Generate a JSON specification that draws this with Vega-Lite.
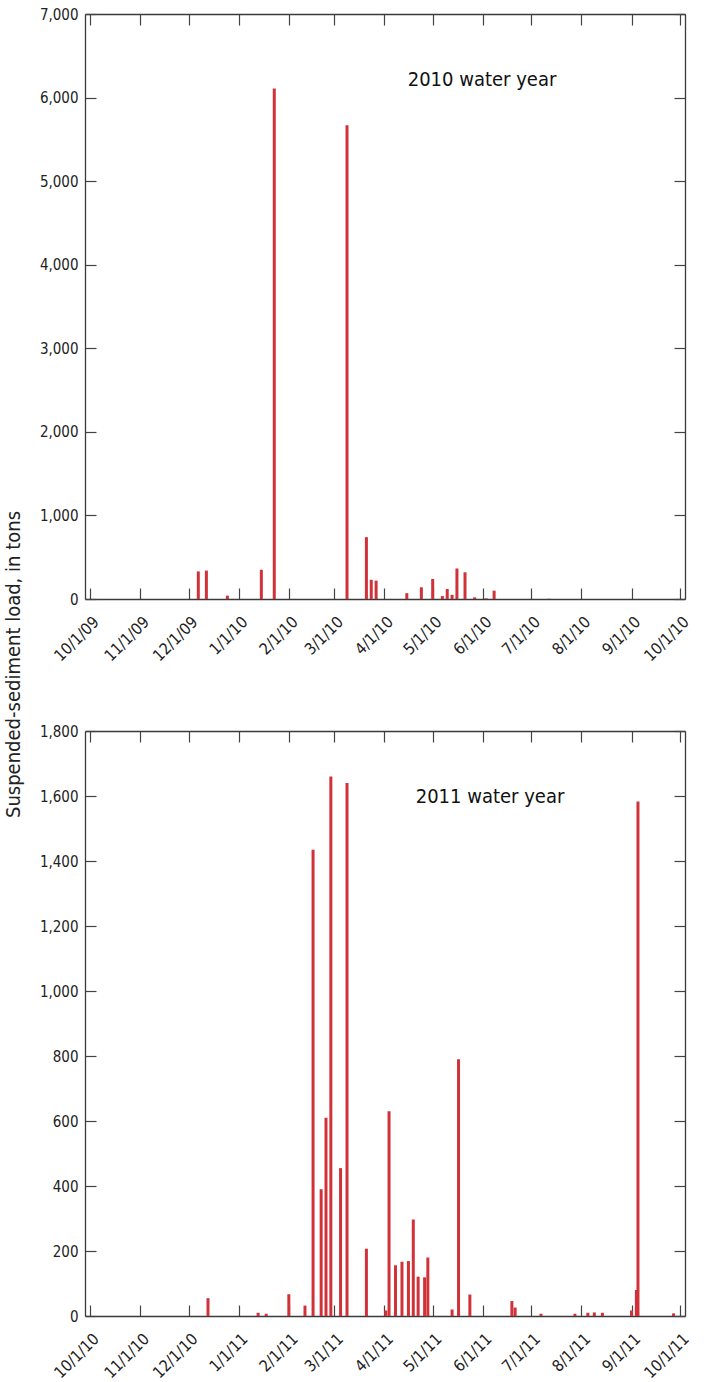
{
  "$schema": "https://vega.github.io/schema/vega-lite/v6.json",
  "padding": {"left": 3, "top": 7, "right": 10, "bottom": 5},
  "bounds": "flush",
  "spacing": 132,
  "background": "white",
  "config": {
    "view": {"stroke": null},
    "font": "DejaVu Sans Condensed",
    "axis": {
      "grid": false,
      "labelFont": "DejaVu Sans Condensed",
      "labelFontSize": 15,
      "labelColor": "#222",
      "labelOverlap": false,
      "labelFlush": false,
      "domainColor": "#3a3a3a",
      "domainWidth": 1.3,
      "tickColor": "#444",
      "tickWidth": 1.2,
      "tickSize": -11,
      "titleFont": "DejaVu Sans Condensed",
      "titleFontSize": 20,
      "titleFontWeight": "normal",
      "titleColor": "#222"
    },
    "title": {"font": "DejaVu Sans Condensed", "fontSize": 20, "fontWeight": "normal", "color": "#111"}
  },
  "vconcat": [
    {
      "width": 600,
      "height": 585,
      "title": {"text": "2010 water year", "anchor": "middle", "dx": 97, "offset": -99, "baseline": "alphabetic"},
      "data": {"values": [
        {"date": "2009-12-07", "load": 330},
        {"date": "2009-12-12", "load": 340},
        {"date": "2009-12-25", "load": 40},
        {"date": "2010-01-15", "load": 350},
        {"date": "2010-01-23", "load": 6110},
        {"date": "2010-03-09", "load": 5670},
        {"date": "2010-03-21", "load": 740},
        {"date": "2010-03-24", "load": 230},
        {"date": "2010-03-27", "load": 220},
        {"date": "2010-04-15", "load": 70},
        {"date": "2010-04-24", "load": 140},
        {"date": "2010-05-01", "load": 240},
        {"date": "2010-05-07", "load": 35},
        {"date": "2010-05-10", "load": 120},
        {"date": "2010-05-13", "load": 50},
        {"date": "2010-05-16", "load": 365},
        {"date": "2010-05-21", "load": 320},
        {"date": "2010-05-27", "load": 20},
        {"date": "2010-06-03", "load": 8},
        {"date": "2010-06-08", "load": 100},
        {"date": "2010-07-12", "load": 3}
      ]},
      "layer": [
        {
          "mark": {"type": "bar", "width": 3, "color": "#d13239"},
          "encoding": {
            "x": {"field": "date", "type": "temporal",
                  "scale": {"type": "utc", "domain": [{"year": 2009, "month": 10, "date": 1, "utc": true}, {"year": 2010, "month": 10, "date": 1, "utc": true}]},
                  "axis": {"orient": "bottom", "title": null, "format": "%-m/%-d/%y", "tickCount": {"interval": "month", "step": 1}, "labelAngle": -45, "labelAlign": "right", "labelBaseline": "middle", "labelPadding": 31, "labelOffset": 6, "labelFontSize": 16}},
            "y": {"field": "load", "type": "quantitative",
                  "scale": {"domain": [0, 7000]},
                  "axis": {"orient": "left", "values": [0, 1000, 2000, 3000, 4000, 5000, 6000, 7000], "format": ",d", "labelPadding": 18,
                           "title": "Suspended-sediment load, in tons", "titleX": -66, "titleY": 650, "titleAngle": -90, "titleAlign": "center", "titleBaseline": "alphabetic"}}
          }
        },
        {
          "mark": {"type": "bar", "width": 3, "opacity": 0},
          "encoding": {
            "x": {"field": "date", "type": "temporal",
                  "axis": {"orient": "top", "title": null, "labels": false, "tickCount": {"interval": "month", "step": 1}}},
            "y": {"field": "load", "type": "quantitative",
                  "axis": {"orient": "right", "title": null, "labels": false, "values": [0, 1000, 2000, 3000, 4000, 5000, 6000, 7000]}}
          }
        }
      ]
    },
    {
      "width": 600,
      "height": 585,
      "title": {"text": "2011 water year", "anchor": "middle", "dx": 105, "offset": -99, "baseline": "alphabetic"},
      "data": {"values": [
        {"date": "2010-12-13", "load": 55},
        {"date": "2011-01-13", "load": 10},
        {"date": "2011-01-18", "load": 7},
        {"date": "2011-02-01", "load": 67},
        {"date": "2011-02-11", "load": 32},
        {"date": "2011-02-16", "load": 1435},
        {"date": "2011-02-21", "load": 390},
        {"date": "2011-02-24", "load": 610},
        {"date": "2011-02-27", "load": 1660},
        {"date": "2011-03-05", "load": 455},
        {"date": "2011-03-09", "load": 1640},
        {"date": "2011-03-21", "load": 207},
        {"date": "2011-04-02", "load": 17},
        {"date": "2011-04-04", "load": 630},
        {"date": "2011-04-08", "load": 156},
        {"date": "2011-04-12", "load": 167},
        {"date": "2011-04-16", "load": 169},
        {"date": "2011-04-19", "load": 297},
        {"date": "2011-04-22", "load": 121},
        {"date": "2011-04-26", "load": 119},
        {"date": "2011-04-28", "load": 180},
        {"date": "2011-05-13", "load": 20},
        {"date": "2011-05-17", "load": 790},
        {"date": "2011-05-24", "load": 66},
        {"date": "2011-06-19", "load": 46},
        {"date": "2011-06-21", "load": 26},
        {"date": "2011-07-07", "load": 7},
        {"date": "2011-07-28", "load": 7},
        {"date": "2011-08-05", "load": 10},
        {"date": "2011-08-09", "load": 11},
        {"date": "2011-08-14", "load": 10},
        {"date": "2011-09-01", "load": 17},
        {"date": "2011-09-04", "load": 80},
        {"date": "2011-09-05", "load": 1583},
        {"date": "2011-09-27", "load": 8}
      ]},
      "layer": [
        {
          "mark": {"type": "bar", "width": 3, "color": "#d13239"},
          "encoding": {
            "x": {"field": "date", "type": "temporal",
                  "scale": {"type": "utc", "domain": [{"year": 2010, "month": 10, "date": 1, "utc": true}, {"year": 2011, "month": 10, "date": 1, "utc": true}]},
                  "axis": {"orient": "bottom", "title": null, "format": "%-m/%-d/%y", "tickCount": {"interval": "month", "step": 1}, "labelAngle": -45, "labelAlign": "right", "labelBaseline": "middle", "labelPadding": 31, "labelOffset": 6, "labelFontSize": 16}},
            "y": {"field": "load", "type": "quantitative",
                  "scale": {"domain": [0, 1800]},
                  "axis": {"orient": "left", "values": [0, 200, 400, 600, 800, 1000, 1200, 1400, 1600, 1800], "format": ",d", "labelPadding": 18, "title": null}}
          }
        },
        {
          "mark": {"type": "bar", "width": 3, "opacity": 0},
          "encoding": {
            "x": {"field": "date", "type": "temporal",
                  "axis": {"orient": "top", "title": null, "labels": false, "tickCount": {"interval": "month", "step": 1}}},
            "y": {"field": "load", "type": "quantitative",
                  "axis": {"orient": "right", "title": null, "labels": false, "values": [0, 200, 400, 600, 800, 1000, 1200, 1400, 1600, 1800]}}
          }
        }
      ]
    }
  ]
}
